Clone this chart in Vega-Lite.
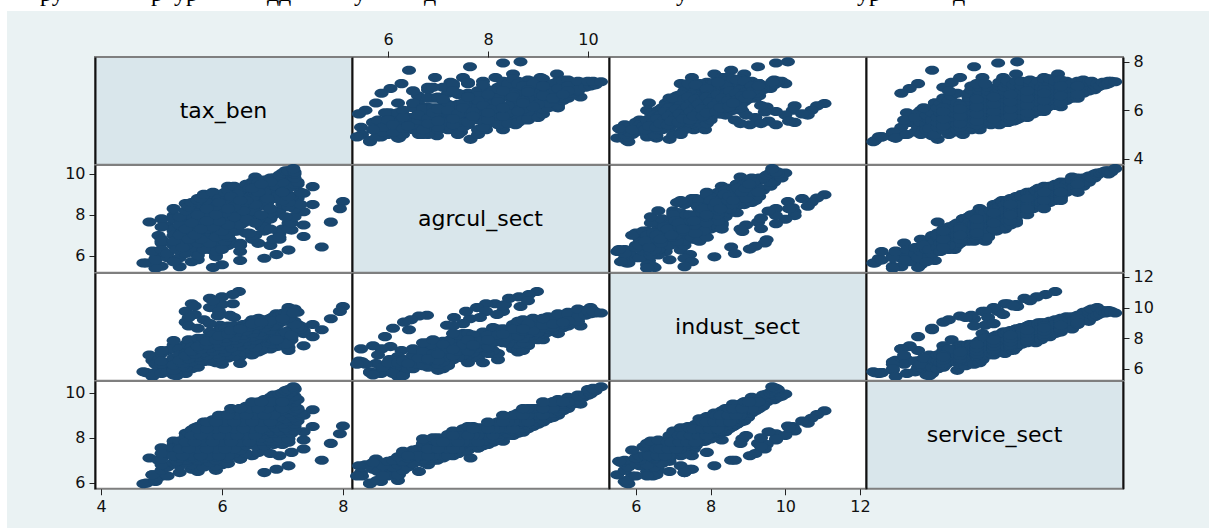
{"$schema":"https://vega.github.io/schema/vega-lite/v6.json","padding":0,"background":"#eaf2f3",
"config":{"view":{"stroke":"#7f7f7f","strokeWidth":2},"axis":{"grid":false,"domainColor":"#111111","domainWidth":2,"tickColor":"#222222","tickWidth":1,"tickSize":6,"labelFont":"DejaVu Sans","labelFontSize":16,"labelColor":"#111111","labelPadding":4},"point":{"filled":true,"opacity":1,"color":"#1a476f","strokeWidth":0,"size":196,"shape":"M-1,0A1,0.65 0 1 0 1,0A1,0.65 0 1 0 -1,0Z"},"text":{"font":"DejaVu Sans","fontSize":22,"color":"#000000"}},
"datasets":{"topline":[{"pos":40,"label":"ру"},{"pos":151,"label":"р"},{"pos":174,"label":"ур"},{"pos":267,"label":"д"},{"pos":279,"label":"д"},{"pos":354,"label":"у"},{"pos":424,"label":"д"},{"pos":676,"label":"у"},{"pos":857,"label":"ур"},{"pos":953,"label":"д"}],
"d":[
{"tax":8.0,"agr":8.65,"ind":10.07,"srv":8.52},{"tax":7.95,"agr":8.3,"ind":9.75,"srv":8.18},{"tax":7.8,"agr":7.64,"ind":9.27,"srv":7.75},{"tax":7.65,"agr":6.42,"ind":8.55,"srv":7.0},{"tax":7.5,"agr":9.38,"ind":8.9,"srv":9.25},{"tax":7.5,"agr":8.5,"ind":8.1,"srv":8.5},{"tax":7.35,"agr":6.94,"ind":7.5,"srv":7.5},{"tax":7.35,"agr":7.5,"ind":8.3,"srv":7.9},{"tax":7.35,"agr":8.15,"ind":8.4,"srv":8.27},{"tax":7.35,"agr":9.05,"ind":8.5,"srv":9.0},{"tax":7.1,"agr":6.27,"ind":7.2,"srv":6.75},{"tax":6.9,"agr":6.05,"ind":7.45,"srv":6.6},{"tax":6.7,"agr":5.87,"ind":7.3,"srv":6.45},{"tax":7.15,"agr":7.25,"ind":7.9,"srv":7.35},{"tax":6.95,"agr":6.8,"ind":7.5,"srv":7.2},{"tax":6.3,"agr":6.2,"ind":6.8,"srv":7.05},{"tax":6.3,"agr":5.76,"ind":6.35,"srv":7.05},{"tax":5.9,"agr":6.03,"ind":6.6,"srv":6.55},{"tax":6.0,"agr":5.55,"ind":6.3,"srv":6.8},{"tax":5.85,"agr":5.42,"ind":6.5,"srv":6.75},
{"tax":4.7,"agr":5.64,"ind":5.8,"srv":5.95},{"tax":4.9,"agr":5.86,"ind":5.7,"srv":6.05},{"tax":4.85,"agr":6.22,"ind":6.55,"srv":6.35},{"tax":5.0,"agr":6.0,"ind":5.9,"srv":6.3},{"tax":5.0,"agr":6.62,"ind":6.3,"srv":6.5},{"tax":4.9,"agr":6.2,"ind":5.75,"srv":6.1},
{"tax":4.8,"agr":7.65,"ind":6.9,"srv":7.1},{"tax":4.95,"agr":6.98,"ind":6.55,"srv":7.0},{"tax":5.2,"agr":7.2,"ind":7.55,"srv":7.5},{"tax":5.1,"agr":7.46,"ind":7.2,"srv":7.4},{"tax":5.0,"agr":7.8,"ind":7.0,"srv":7.55},{"tax":5.2,"agr":7.96,"ind":7.3,"srv":7.7},{"tax":5.2,"agr":8.3,"ind":7.85,"srv":7.85},{"tax":5.4,"agr":8.55,"ind":7.6,"srv":8.2},{"tax":5.6,"agr":8.8,"ind":7.5,"srv":8.5},{"tax":6.1,"agr":9.4,"ind":8.3,"srv":9.0},{"tax":6.55,"agr":9.85,"ind":8.8,"srv":9.5},
{"tax":6.28,"agr":8.98,"ind":11.05,"srv":9.2},{"tax":6.18,"agr":8.82,"ind":10.85,"srv":9.03},{"tax":6.0,"agr":8.62,"ind":10.7,"srv":8.87},{"tax":5.8,"agr":8.42,"ind":10.6,"srv":8.65},{"tax":6.18,"agr":8.14,"ind":10.25,"srv":8.3},{"tax":6.0,"agr":8.34,"ind":10.2,"srv":8.5},{"tax":5.5,"agr":7.96,"ind":10.25,"srv":8.35},{"tax":5.8,"agr":7.78,"ind":10.0,"srv":8.1},{"tax":5.4,"agr":7.96,"ind":9.75,"srv":7.9},{"tax":5.95,"agr":7.56,"ind":9.75,"srv":7.95},{"tax":5.55,"agr":8.18,"ind":9.55,"srv":8.27},{"tax":6.13,"agr":6.78,"ind":9.5,"srv":7.7},{"tax":5.93,"agr":6.62,"ind":9.45,"srv":7.5},{"tax":5.7,"agr":6.46,"ind":9.2,"srv":7.3},{"tax":5.4,"agr":6.32,"ind":9.05,"srv":7.2},{"tax":6.2,"agr":7.84,"ind":9.35,"srv":8.0},{"tax":5.45,"agr":7.32,"ind":9.35,"srv":7.6},{"tax":5.97,"agr":7.18,"ind":8.85,"srv":7.95},{"tax":5.8,"agr":7.5,"ind":8.95,"srv":8.1},{"tax":5.45,"agr":7.3,"ind":8.8,"srv":7.75},{"tax":5.6,"agr":6.1,"ind":8.65,"srv":7.0},{"tax":5.9,"agr":5.94,"ind":8.1,"srv":6.75},{"tax":5.5,"agr":5.7,"ind":7.5,"srv":6.6},{"tax":5.3,"agr":5.46,"ind":7.3,"srv":6.45},{"tax":5.6,"agr":5.8,"ind":6.9,"srv":6.5},{"tax":5.0,"agr":5.48,"ind":6.45,"srv":6.3},{"tax":4.9,"agr":5.38,"ind":6.3,"srv":6.3},{"tax":4.75,"agr":5.64,"ind":5.75,"srv":5.98},{"tax":4.9,"agr":5.78,"ind":5.75,"srv":6.1},{"tax":5.1,"agr":5.9,"ind":6.0,"srv":6.3},{"tax":4.85,"agr":6.2,"ind":5.5,"srv":6.35},{"tax":5.0,"agr":6.3,"ind":5.7,"srv":6.55},{"tax":5.85,"agr":8.8,"ind":10.45,"srv":8.75},{"tax":5.55,"agr":8.3,"ind":10.1,"srv":8.45},
{"tax":5.1,"agr":6.1,"ind":5.8,"srv":6.7},{"tax":5.3,"agr":5.9,"ind":6.1,"srv":6.75},{"tax":5.5,"agr":6.2,"ind":6.2,"srv":6.8},{"tax":5.7,"agr":6.4,"ind":6.5,"srv":6.7},{"tax":5.2,"agr":6.5,"ind":6.0,"srv":6.85},{"tax":5.4,"agr":6.7,"ind":6.2,"srv":6.9},{"tax":5.6,"agr":6.0,"ind":6.4,"srv":6.95},{"tax":5.8,"agr":6.3,"ind":6.6,"srv":6.9},{"tax":6.0,"agr":6.6,"ind":6.9,"srv":6.95},{"tax":5.0,"agr":6.8,"ind":6.3,"srv":6.8},{"tax":5.2,"agr":5.7,"ind":5.6,"srv":6.9},{"tax":5.4,"agr":6.1,"ind":5.7,"srv":7.0},{"tax":5.6,"agr":6.8,"ind":6.1,"srv":7.0},{"tax":5.9,"agr":6.9,"ind":6.7,"srv":7.0},{"tax":6.1,"agr":6.5,"ind":6.7,"srv":6.85},{"tax":5.25,"agr":6.3,"ind":5.55,"srv":6.95},
{"tax":5.0,"agr":6.7,"ind":6.5,"srv":7.05},{"tax":5.3,"agr":7.1,"ind":6.0,"srv":7.1},{"tax":5.5,"agr":6.4,"ind":6.0,"srv":7.1},{"tax":5.7,"agr":6.9,"ind":6.5,"srv":7.1},{"tax":5.9,"agr":6.2,"ind":6.4,"srv":7.15},{"tax":6.1,"agr":7.0,"ind":6.9,"srv":7.1},{"tax":6.3,"agr":6.6,"ind":6.9,"srv":7.15},{"tax":6.5,"agr":6.9,"ind":7.2,"srv":7.2},{"tax":5.2,"agr":7.3,"ind":6.6,"srv":7.2},{"tax":5.4,"agr":6.5,"ind":6.1,"srv":7.2},{"tax":5.6,"agr":7.2,"ind":6.3,"srv":7.25},{"tax":5.8,"agr":6.7,"ind":6.7,"srv":7.25},{"tax":6.0,"agr":6.3,"ind":6.6,"srv":7.3},{"tax":6.2,"agr":7.4,"ind":7.0,"srv":7.3},{"tax":6.4,"agr":7.1,"ind":7.1,"srv":7.3},{"tax":6.6,"agr":6.6,"ind":7.1,"srv":7.35},{"tax":5.0,"agr":7.4,"ind":7.2,"srv":7.3},{"tax":5.3,"agr":6.8,"ind":6.5,"srv":7.35},{"tax":5.5,"agr":7.5,"ind":6.7,"srv":7.4},{"tax":5.7,"agr":6.3,"ind":6.5,"srv":7.4},{"tax":5.9,"agr":7.0,"ind":7.0,"srv":7.4},{"tax":6.1,"agr":7.5,"ind":7.2,"srv":7.4},{"tax":6.3,"agr":6.5,"ind":6.9,"srv":7.45},{"tax":6.7,"agr":7.2,"ind":7.4,"srv":7.45},{"tax":5.2,"agr":7.0,"ind":5.9,"srv":7.45},{"tax":5.4,"agr":7.6,"ind":6.4,"srv":7.45},{"tax":5.6,"agr":6.6,"ind":6.3,"srv":7.5},{"tax":5.8,"agr":7.3,"ind":7.1,"srv":7.5},{"tax":6.0,"agr":6.8,"ind":7.3,"srv":7.5},{"tax":6.8,"agr":6.5,"ind":7.3,"srv":7.3},
{"tax":5.2,"agr":7.8,"ind":6.7,"srv":7.55},{"tax":5.35,"agr":7.2,"ind":6.2,"srv":7.6},{"tax":5.5,"agr":6.9,"ind":6.6,"srv":7.55},{"tax":5.65,"agr":7.6,"ind":6.9,"srv":7.6},{"tax":5.8,"agr":7.1,"ind":6.5,"srv":7.6},{"tax":5.95,"agr":7.8,"ind":7.2,"srv":7.6},{"tax":6.1,"agr":6.7,"ind":7.3,"srv":7.65},{"tax":6.25,"agr":7.4,"ind":7.0,"srv":7.6},{"tax":6.4,"agr":7.9,"ind":7.5,"srv":7.65},{"tax":6.55,"agr":7.0,"ind":7.4,"srv":7.65},{"tax":6.7,"agr":7.6,"ind":7.6,"srv":7.65},{"tax":6.85,"agr":6.8,"ind":7.6,"srv":7.7},{"tax":7.0,"agr":7.3,"ind":7.5,"srv":7.7},{"tax":5.3,"agr":7.5,"ind":6.9,"srv":7.7},{"tax":5.45,"agr":8.0,"ind":7.2,"srv":7.7},{"tax":5.6,"agr":7.0,"ind":6.3,"srv":7.75},{"tax":5.75,"agr":6.7,"ind":7.1,"srv":7.75},{"tax":5.9,"agr":7.5,"ind":7.4,"srv":7.75},{"tax":6.05,"agr":8.1,"ind":7.0,"srv":7.8},{"tax":6.2,"agr":7.2,"ind":6.8,"srv":7.8},{"tax":6.35,"agr":7.7,"ind":7.3,"srv":7.8},{"tax":6.5,"agr":6.8,"ind":7.7,"srv":7.8},{"tax":6.65,"agr":7.4,"ind":7.5,"srv":7.85},{"tax":6.8,"agr":8.0,"ind":7.8,"srv":7.85},{"tax":6.95,"agr":7.1,"ind":7.8,"srv":7.85},{"tax":7.1,"agr":7.6,"ind":7.4,"srv":7.8},{"tax":5.3,"agr":7.9,"ind":6.4,"srv":7.85},{"tax":5.45,"agr":6.9,"ind":7.5,"srv":7.9},{"tax":5.6,"agr":7.4,"ind":7.7,"srv":7.9},{"tax":5.75,"agr":8.2,"ind":6.6,"srv":7.9},{"tax":5.9,"agr":7.2,"ind":6.9,"srv":7.9},{"tax":6.05,"agr":6.7,"ind":7.7,"srv":7.95},{"tax":6.2,"agr":7.8,"ind":7.9,"srv":7.95},{"tax":6.35,"agr":8.1,"ind":7.1,"srv":7.95},{"tax":6.5,"agr":7.0,"ind":6.9,"srv":8.0},{"tax":6.65,"agr":7.5,"ind":7.2,"srv":8.0},{"tax":6.8,"agr":7.8,"ind":8.0,"srv":8.0},{"tax":6.95,"agr":6.9,"ind":7.9,"srv":8.0},{"tax":7.1,"agr":7.3,"ind":8.0,"srv":7.95},
{"tax":5.4,"agr":8.2,"ind":7.0,"srv":8.05},{"tax":5.5,"agr":7.5,"ind":7.7,"srv":8.05},{"tax":5.65,"agr":8.5,"ind":7.3,"srv":8.1},{"tax":5.8,"agr":7.3,"ind":6.9,"srv":8.1},{"tax":5.95,"agr":7.9,"ind":7.6,"srv":8.1},{"tax":6.1,"agr":8.4,"ind":8.1,"srv":8.1},{"tax":6.25,"agr":7.2,"ind":7.8,"srv":8.15},{"tax":6.4,"agr":7.7,"ind":7.4,"srv":8.1},{"tax":6.55,"agr":8.3,"ind":7.7,"srv":8.15},{"tax":6.7,"agr":7.4,"ind":8.2,"srv":8.15},{"tax":6.85,"agr":8.0,"ind":7.9,"srv":8.2},{"tax":7.0,"agr":8.6,"ind":8.2,"srv":8.2},{"tax":7.15,"agr":7.6,"ind":8.1,"srv":8.2},{"tax":5.45,"agr":8.4,"ind":7.9,"srv":8.2},{"tax":5.6,"agr":7.8,"ind":8.0,"srv":8.2},{"tax":5.75,"agr":8.6,"ind":7.1,"srv":8.25},{"tax":5.9,"agr":7.4,"ind":8.2,"srv":8.25},{"tax":6.05,"agr":8.1,"ind":7.2,"srv":8.25},{"tax":6.2,"agr":8.7,"ind":7.6,"srv":8.25},{"tax":6.35,"agr":7.6,"ind":8.3,"srv":8.25},{"tax":6.5,"agr":8.0,"ind":7.0,"srv":8.3},{"tax":6.65,"agr":8.5,"ind":8.4,"srv":8.3},{"tax":6.8,"agr":7.3,"ind":8.3,"srv":8.3},{"tax":6.95,"agr":8.2,"ind":8.3,"srv":8.3},{"tax":7.1,"agr":8.7,"ind":7.7,"srv":8.35},{"tax":7.2,"agr":7.9,"ind":8.4,"srv":8.35},{"tax":5.5,"agr":8.6,"ind":7.4,"srv":8.35},{"tax":5.7,"agr":7.7,"ind":7.9,"srv":8.35},{"tax":5.85,"agr":8.3,"ind":8.3,"srv":8.4},{"tax":6.0,"agr":8.8,"ind":8.0,"srv":8.4},{"tax":6.15,"agr":7.5,"ind":7.5,"srv":8.4},{"tax":6.3,"agr":8.1,"ind":8.5,"srv":8.4},{"tax":6.45,"agr":8.6,"ind":7.3,"srv":8.4},{"tax":6.6,"agr":7.8,"ind":8.0,"srv":8.45},{"tax":6.75,"agr":8.4,"ind":8.5,"srv":8.45},{"tax":6.9,"agr":8.8,"ind":8.2,"srv":8.45},{"tax":7.05,"agr":7.9,"ind":7.6,"srv":8.45},{"tax":7.2,"agr":8.3,"ind":8.6,"srv":8.5},{"tax":5.6,"agr":8.7,"ind":7.2,"srv":8.45},{"tax":5.8,"agr":8.0,"ind":7.7,"srv":8.5},{"tax":5.95,"agr":8.5,"ind":8.5,"srv":8.5},{"tax":6.1,"agr":7.7,"ind":8.2,"srv":8.5},{"tax":6.25,"agr":8.9,"ind":7.9,"srv":8.5},{"tax":6.4,"agr":8.2,"ind":8.6,"srv":8.5},{"tax":6.55,"agr":7.6,"ind":7.4,"srv":8.5},
{"tax":5.65,"agr":8.8,"ind":7.6,"srv":8.55},{"tax":5.8,"agr":8.3,"ind":8.4,"srv":8.55},{"tax":6.0,"agr":8.9,"ind":8.6,"srv":8.6},{"tax":6.2,"agr":8.0,"ind":7.9,"srv":8.55},{"tax":6.4,"agr":8.6,"ind":7.6,"srv":8.6},{"tax":6.6,"agr":9.0,"ind":8.2,"srv":8.6},{"tax":6.8,"agr":8.1,"ind":8.7,"srv":8.6},{"tax":7.0,"agr":8.5,"ind":8.3,"srv":8.6},{"tax":7.2,"agr":8.9,"ind":8.7,"srv":8.6},{"tax":5.7,"agr":9.0,"ind":8.0,"srv":8.7},{"tax":5.9,"agr":8.4,"ind":7.7,"srv":8.7},{"tax":6.1,"agr":8.8,"ind":8.8,"srv":8.7},{"tax":6.3,"agr":9.1,"ind":8.4,"srv":8.7},{"tax":6.5,"agr":8.2,"ind":7.8,"srv":8.7},{"tax":6.7,"agr":8.7,"ind":8.8,"srv":8.7},{"tax":6.9,"agr":9.1,"ind":7.9,"srv":8.75},{"tax":7.1,"agr":8.4,"ind":8.5,"srv":8.75},{"tax":7.25,"agr":8.8,"ind":8.9,"srv":8.75},{"tax":5.85,"agr":9.1,"ind":8.2,"srv":8.8},{"tax":6.05,"agr":8.3,"ind":8.6,"srv":8.8},{"tax":6.25,"agr":8.7,"ind":7.7,"srv":8.85},{"tax":6.45,"agr":9.2,"ind":8.8,"srv":8.85},{"tax":6.65,"agr":8.5,"ind":8.0,"srv":8.85},{"tax":6.85,"agr":8.9,"ind":8.9,"srv":8.85},{"tax":7.05,"agr":9.2,"ind":8.4,"srv":8.85},{"tax":7.2,"agr":8.6,"ind":9.0,"srv":8.9},{"tax":5.95,"agr":8.8,"ind":8.0,"srv":8.9},{"tax":6.15,"agr":9.3,"ind":8.5,"srv":8.9},{"tax":6.35,"agr":8.5,"ind":8.9,"srv":8.9},{"tax":6.55,"agr":9.0,"ind":7.9,"srv":8.95},{"tax":6.75,"agr":8.6,"ind":8.7,"srv":8.95},{"tax":6.95,"agr":9.3,"ind":9.0,"srv":8.95},{"tax":7.15,"agr":8.9,"ind":8.2,"srv":9.0},{"tax":7.3,"agr":8.5,"ind":8.8,"srv":9.0},{"tax":6.05,"agr":9.1,"ind":8.3,"srv":9.0},{"tax":6.25,"agr":8.6,"ind":8.8,"srv":9.0},{"tax":6.45,"agr":9.3,"ind":9.0,"srv":9.0},{"tax":6.65,"agr":8.8,"ind":8.1,"srv":9.0},
{"tax":6.1,"agr":9.2,"ind":8.4,"srv":9.05},{"tax":6.3,"agr":8.7,"ind":8.1,"srv":9.1},{"tax":6.5,"agr":9.4,"ind":9.0,"srv":9.1},{"tax":6.7,"agr":8.9,"ind":8.4,"srv":9.1},{"tax":6.9,"agr":9.3,"ind":8.8,"srv":9.1},{"tax":7.1,"agr":8.6,"ind":9.1,"srv":9.1},{"tax":7.3,"agr":9.1,"ind":8.6,"srv":9.1},{"tax":6.2,"agr":9.4,"ind":8.8,"srv":9.2},{"tax":6.4,"agr":8.8,"ind":8.3,"srv":9.2},{"tax":6.6,"agr":9.5,"ind":9.1,"srv":9.2},{"tax":6.8,"agr":9.0,"ind":8.6,"srv":9.2},{"tax":7.0,"agr":8.7,"ind":9.2,"srv":9.2},{"tax":7.2,"agr":9.4,"ind":8.9,"srv":9.2},{"tax":6.3,"agr":9.2,"ind":8.6,"srv":9.3},{"tax":6.5,"agr":9.6,"ind":9.2,"srv":9.3},{"tax":6.7,"agr":9.0,"ind":8.4,"srv":9.3},{"tax":6.9,"agr":9.4,"ind":9.0,"srv":9.3},{"tax":7.1,"agr":8.9,"ind":9.3,"srv":9.3},{"tax":7.25,"agr":9.5,"ind":8.7,"srv":9.3},{"tax":6.4,"agr":9.5,"ind":8.7,"srv":9.4},{"tax":6.6,"agr":9.1,"ind":9.3,"srv":9.4},{"tax":6.8,"agr":9.6,"ind":8.8,"srv":9.4},{"tax":7.0,"agr":9.2,"ind":9.4,"srv":9.4},{"tax":7.2,"agr":9.5,"ind":9.1,"srv":9.4},{"tax":6.5,"agr":9.5,"ind":8.9,"srv":9.5},{"tax":6.7,"agr":9.2,"ind":8.6,"srv":9.5},{"tax":6.9,"agr":9.7,"ind":9.4,"srv":9.5},{"tax":7.1,"agr":9.3,"ind":9.1,"srv":9.5},
{"tax":6.6,"agr":9.6,"ind":9.0,"srv":9.6},{"tax":6.8,"agr":9.3,"ind":9.3,"srv":9.6},{"tax":7.0,"agr":9.8,"ind":9.5,"srv":9.6},{"tax":7.2,"agr":9.5,"ind":8.9,"srv":9.6},{"tax":6.7,"agr":9.7,"ind":9.2,"srv":9.7},{"tax":6.9,"agr":9.4,"ind":9.6,"srv":9.7},{"tax":7.1,"agr":9.8,"ind":9.3,"srv":9.7},{"tax":7.25,"agr":9.6,"ind":9.7,"srv":9.7},{"tax":6.8,"agr":9.8,"ind":9.1,"srv":9.8},{"tax":7.0,"agr":9.6,"ind":9.6,"srv":9.8},{"tax":7.15,"agr":9.9,"ind":9.8,"srv":9.8},{"tax":6.85,"agr":9.8,"ind":9.4,"srv":9.9},{"tax":7.05,"agr":10.0,"ind":9.7,"srv":9.9},{"tax":7.2,"agr":9.8,"ind":9.9,"srv":9.85},{"tax":6.95,"agr":9.95,"ind":9.5,"srv":9.95},{"tax":7.1,"agr":10.05,"ind":10.0,"srv":9.95},
{"tax":7.0,"agr":10.05,"ind":9.6,"srv":10.0},{"tax":7.15,"agr":10.1,"ind":9.8,"srv":10.05},{"tax":7.05,"agr":10.15,"ind":9.65,"srv":10.1},{"tax":7.2,"agr":10.0,"ind":9.8,"srv":10.15},{"tax":7.1,"agr":10.15,"ind":9.7,"srv":10.15},{"tax":7.2,"agr":10.1,"ind":9.75,"srv":10.2},{"tax":7.18,"agr":10.26,"ind":9.65,"srv":10.27},
{"tax":5.2,"agr":6.7,"ind":6.25,"srv":7.2},{"tax":5.5,"agr":7.1,"ind":6.46,"srv":7.2},{"tax":5.8,"agr":6.6,"ind":6.67,"srv":7.2},{"tax":6.1,"agr":6.9,"ind":6.88,"srv":7.2},{"tax":5.35,"agr":6.4,"ind":6.35,"srv":7.2},{"tax":5.65,"agr":6.8,"ind":6.57,"srv":7.2},{"tax":5.95,"agr":7.2,"ind":6.78,"srv":7.2},
{"tax":5.3,"agr":7.0,"ind":6.55,"srv":7.5},{"tax":5.6,"agr":7.4,"ind":6.76,"srv":7.5},{"tax":5.9,"agr":6.9,"ind":6.97,"srv":7.5},{"tax":6.2,"agr":7.2,"ind":7.18,"srv":7.5},{"tax":5.45,"agr":6.8,"ind":6.65,"srv":7.5},{"tax":5.75,"agr":7.3,"ind":6.87,"srv":7.5},{"tax":6.05,"agr":7.0,"ind":7.08,"srv":7.5},
{"tax":5.4,"agr":7.3,"ind":6.85,"srv":7.8},{"tax":5.7,"agr":7.7,"ind":7.06,"srv":7.8},{"tax":6.0,"agr":7.2,"ind":7.27,"srv":7.8},{"tax":6.3,"agr":7.5,"ind":7.48,"srv":7.8},{"tax":5.55,"agr":7.0,"ind":6.95,"srv":7.8},{"tax":5.85,"agr":7.4,"ind":7.17,"srv":7.8},{"tax":6.15,"agr":7.8,"ind":7.38,"srv":7.8},{"tax":6.45,"agr":7.1,"ind":7.59,"srv":7.8},
{"tax":5.5,"agr":7.6,"ind":7.15,"srv":8.1},{"tax":5.8,"agr":8.0,"ind":7.36,"srv":8.1},{"tax":6.1,"agr":7.5,"ind":7.57,"srv":8.1},{"tax":6.4,"agr":7.8,"ind":7.78,"srv":8.1},{"tax":5.65,"agr":7.3,"ind":7.26,"srv":8.1},{"tax":5.95,"agr":7.7,"ind":7.47,"srv":8.1},{"tax":6.25,"agr":8.1,"ind":7.68,"srv":8.1},{"tax":6.55,"agr":7.6,"ind":7.89,"srv":8.1},
{"tax":5.6,"agr":8.0,"ind":7.45,"srv":8.4},{"tax":5.9,"agr":8.4,"ind":7.66,"srv":8.4},{"tax":6.2,"agr":7.9,"ind":7.87,"srv":8.4},{"tax":6.5,"agr":8.2,"ind":8.08,"srv":8.4},{"tax":5.75,"agr":7.7,"ind":7.55,"srv":8.4},{"tax":6.05,"agr":8.1,"ind":7.77,"srv":8.4},{"tax":6.35,"agr":8.5,"ind":7.98,"srv":8.4},{"tax":6.65,"agr":8.0,"ind":8.19,"srv":8.4},
{"tax":5.75,"agr":8.3,"ind":7.79,"srv":8.7},{"tax":6.05,"agr":8.7,"ind":8.0,"srv":8.7},{"tax":6.35,"agr":8.2,"ind":8.2,"srv":8.7},{"tax":6.65,"agr":8.5,"ind":8.42,"srv":8.7},{"tax":5.9,"agr":8.0,"ind":7.89,"srv":8.7},{"tax":6.2,"agr":8.4,"ind":8.1,"srv":8.7},{"tax":6.5,"agr":8.8,"ind":8.31,"srv":8.7},{"tax":6.8,"agr":8.3,"ind":8.52,"srv":8.7},
{"tax":5.95,"agr":8.6,"ind":8.15,"srv":9.0},{"tax":6.25,"agr":9.0,"ind":8.37,"srv":9.0},{"tax":6.55,"agr":8.5,"ind":8.58,"srv":9.0},{"tax":6.85,"agr":8.8,"ind":8.79,"srv":9.0},{"tax":6.1,"agr":8.3,"ind":8.26,"srv":9.0},{"tax":6.4,"agr":8.7,"ind":8.47,"srv":9.0},{"tax":6.7,"agr":9.1,"ind":8.68,"srv":9.0},
{"tax":6.15,"agr":8.9,"ind":8.5,"srv":9.3},{"tax":6.45,"agr":9.3,"ind":8.73,"srv":9.3},{"tax":6.75,"agr":8.8,"ind":8.95,"srv":9.3},{"tax":7.0,"agr":9.1,"ind":9.1,"srv":9.3},{"tax":6.3,"agr":8.7,"ind":8.6,"srv":9.3},{"tax":6.6,"agr":9.1,"ind":8.84,"srv":9.3},
{"tax":6.5,"agr":9.3,"ind":8.93,"srv":9.6},{"tax":6.8,"agr":9.6,"ind":9.14,"srv":9.6},{"tax":7.0,"agr":9.1,"ind":9.28,"srv":9.6},{"tax":6.65,"agr":9.5,"ind":9.03,"srv":9.6}
]},
"vconcat":[
{"width":1209,"height":11,"view":{"fill":"#ffffff","stroke":null},"data":{"name":"topline"},"mark":{"type":"text","clip":true,"font":"Liberation Serif","fontSize":24,"align":"left","baseline":"alphabetic","dy":-5,"color":"#000000"},"encoding":{"x":{"field":"pos","type":"quantitative","scale":{"domain":[0,1209]},"axis":null},"text":{"field":"label"}}},
{"hconcat":[
{"width":7,"height":517,"view":{"fill":"#ffffff","stroke":null},"data":{"values":[]},"mark":"point"},
{"width":88,"height":516,"view":{"stroke":null},"data":{"values":[]},"mark":"point"},
{"vconcat":[
{"width":1028,"height":46,"view":{"stroke":null},"data":{"values":[]},"mark":"point"},
{"columns":4,"spacing":0,"bounds":"flush","concat":[
{"width":257,"height":107.75,"view":{"fill":"#d9e6eb"},"data":{"values":[{"label":"tax_ben"}]},"mark":"text","encoding":{"x":{"datum":6.025,"type":"quantitative","scale":{"domain":[3.9,8.15],"nice":false,"zero":false},"axis":null},"y":{"datum":5.975,"type":"quantitative","scale":{"domain":[3.75,8.2],"nice":false,"zero":false},"axis":{"title":null,"labels":false,"ticks":false,"orient":"left"}},"text":{"field":"label"}}},
{"width":257,"height":107.75,"view":{"fill":"#ffffff"},"data":{"name":"d"},"mark":"point","encoding":{"x":{"field":"agr","type":"quantitative","scale":{"domain":[5.28,10.42],"nice":false,"zero":false},"axis":{"title":null,"orient":"top","values":[6,8,10],"domain":false}},"y":{"field":"tax","type":"quantitative","scale":{"domain":[3.75,8.2],"nice":false,"zero":false},"axis":{"title":null,"labels":false,"ticks":false,"orient":"left"}}}},
{"width":257,"height":107.75,"view":{"fill":"#ffffff"},"data":{"name":"d"},"mark":"point","encoding":{"x":{"field":"ind","type":"quantitative","scale":{"domain":[5.28,12.16],"nice":false,"zero":false},"axis":null},"y":{"field":"tax","type":"quantitative","scale":{"domain":[3.75,8.2],"nice":false,"zero":false},"axis":{"title":null,"labels":false,"ticks":false,"orient":"left"}}}},
{"width":257,"height":107.75,"view":{"fill":"#ffffff"},"resolve":{"axis":{"y":"independent"}},"layer":[{"data":{"values":[]},"mark":"point","encoding":{"x":{"field":"srv","type":"quantitative","scale":{"domain":[5.82,10.41],"nice":false,"zero":false},"axis":null},"y":{"field":"tax","type":"quantitative","scale":{"domain":[3.75,8.2],"nice":false,"zero":false},"axis":{"title":null,"labels":false,"ticks":false,"orient":"left"}}}},{"data":{"name":"d"},"mark":"point","encoding":{"x":{"field":"srv","type":"quantitative","scale":{"domain":[5.82,10.41],"nice":false,"zero":false},"axis":{"title":null,"orient":"top","values":[6,8,10],"domain":false}},"y":{"field":"tax","type":"quantitative","scale":{"domain":[3.75,8.2],"nice":false,"zero":false},"axis":{"title":null,"orient":"right","values":[4,6,8]}}}}]},

{"width":257,"height":107.75,"view":{"fill":"#ffffff"},"data":{"name":"d"},"mark":"point","encoding":{"x":{"field":"tax","type":"quantitative","scale":{"domain":[3.9,8.15],"nice":false,"zero":false},"axis":null},"y":{"field":"agr","type":"quantitative","scale":{"domain":[5.16,10.44],"nice":false,"zero":false},"axis":{"title":null,"orient":"left","values":[6,8,10]}}}},
{"width":257,"height":107.75,"view":{"fill":"#d9e6eb"},"data":{"values":[{"label":"agrcul_sect"}]},"mark":"text","encoding":{"x":{"datum":7.85,"type":"quantitative","scale":{"domain":[5.28,10.42],"nice":false,"zero":false},"axis":null},"y":{"datum":7.8,"type":"quantitative","scale":{"domain":[5.16,10.44],"nice":false,"zero":false},"axis":{"title":null,"labels":false,"ticks":false,"orient":"left"}},"text":{"field":"label"}}},
{"width":257,"height":107.75,"view":{"fill":"#ffffff"},"data":{"name":"d"},"mark":"point","encoding":{"x":{"field":"ind","type":"quantitative","scale":{"domain":[5.28,12.16],"nice":false,"zero":false},"axis":null},"y":{"field":"agr","type":"quantitative","scale":{"domain":[5.16,10.44],"nice":false,"zero":false},"axis":{"title":null,"labels":false,"ticks":false,"orient":"left"}}}},
{"width":257,"height":107.75,"view":{"fill":"#ffffff"},"resolve":{"axis":{"y":"independent"}},"layer":[{"data":{"values":[]},"mark":"point","encoding":{"x":{"field":"srv","type":"quantitative","scale":{"domain":[5.82,10.41],"nice":false,"zero":false},"axis":null},"y":{"field":"agr","type":"quantitative","scale":{"domain":[5.16,10.44],"nice":false,"zero":false},"axis":{"title":null,"labels":false,"ticks":false,"orient":"left"}}}},{"data":{"name":"d"},"mark":"point","encoding":{"x":{"field":"srv","type":"quantitative","scale":{"domain":[5.82,10.41],"nice":false,"zero":false},"axis":null},"y":{"field":"agr","type":"quantitative","scale":{"domain":[5.16,10.44],"nice":false,"zero":false},"axis":{"title":null,"labels":false,"ticks":false,"orient":"right"}}}}]},

{"width":257,"height":107.75,"view":{"fill":"#ffffff"},"data":{"name":"d"},"mark":"point","encoding":{"x":{"field":"tax","type":"quantitative","scale":{"domain":[3.9,8.15],"nice":false,"zero":false},"axis":null},"y":{"field":"ind","type":"quantitative","scale":{"domain":[5.22,12.26],"nice":false,"zero":false},"axis":{"title":null,"labels":false,"ticks":false,"orient":"left"}}}},
{"width":257,"height":107.75,"view":{"fill":"#ffffff"},"data":{"name":"d"},"mark":"point","encoding":{"x":{"field":"agr","type":"quantitative","scale":{"domain":[5.28,10.42],"nice":false,"zero":false},"axis":null},"y":{"field":"ind","type":"quantitative","scale":{"domain":[5.22,12.26],"nice":false,"zero":false},"axis":{"title":null,"labels":false,"ticks":false,"orient":"left"}}}},
{"width":257,"height":107.75,"view":{"fill":"#d9e6eb"},"data":{"values":[{"label":"indust_sect"}]},"mark":"text","encoding":{"x":{"datum":8.72,"type":"quantitative","scale":{"domain":[5.28,12.16],"nice":false,"zero":false},"axis":null},"y":{"datum":8.74,"type":"quantitative","scale":{"domain":[5.22,12.26],"nice":false,"zero":false},"axis":{"title":null,"labels":false,"ticks":false,"orient":"left"}},"text":{"field":"label"}}},
{"width":257,"height":107.75,"view":{"fill":"#ffffff"},"resolve":{"axis":{"y":"independent"}},"layer":[{"data":{"values":[]},"mark":"point","encoding":{"x":{"field":"srv","type":"quantitative","scale":{"domain":[5.82,10.41],"nice":false,"zero":false},"axis":null},"y":{"field":"ind","type":"quantitative","scale":{"domain":[5.22,12.26],"nice":false,"zero":false},"axis":{"title":null,"labels":false,"ticks":false,"orient":"left"}}}},{"data":{"name":"d"},"mark":"point","encoding":{"x":{"field":"srv","type":"quantitative","scale":{"domain":[5.82,10.41],"nice":false,"zero":false},"axis":null},"y":{"field":"ind","type":"quantitative","scale":{"domain":[5.22,12.26],"nice":false,"zero":false},"axis":{"title":null,"orient":"right","values":[6,8,10,12]}}}}]},

{"width":257,"height":107.75,"view":{"fill":"#ffffff"},"data":{"name":"d"},"mark":"point","encoding":{"x":{"field":"tax","type":"quantitative","scale":{"domain":[3.9,8.15],"nice":false,"zero":false},"axis":{"title":null,"orient":"bottom","values":[4,6,8],"domain":false}},"y":{"field":"srv","type":"quantitative","scale":{"domain":[5.73,10.53],"nice":false,"zero":false},"axis":{"title":null,"orient":"left","values":[6,8,10]}}}},
{"width":257,"height":107.75,"view":{"fill":"#ffffff"},"data":{"name":"d"},"mark":"point","encoding":{"x":{"field":"agr","type":"quantitative","scale":{"domain":[5.28,10.42],"nice":false,"zero":false},"axis":null},"y":{"field":"srv","type":"quantitative","scale":{"domain":[5.73,10.53],"nice":false,"zero":false},"axis":{"title":null,"labels":false,"ticks":false,"orient":"left"}}}},
{"width":257,"height":107.75,"view":{"fill":"#ffffff"},"data":{"name":"d"},"mark":"point","encoding":{"x":{"field":"ind","type":"quantitative","scale":{"domain":[5.28,12.16],"nice":false,"zero":false},"axis":{"title":null,"orient":"bottom","values":[6,8,10,12],"domain":false}},"y":{"field":"srv","type":"quantitative","scale":{"domain":[5.73,10.53],"nice":false,"zero":false},"axis":{"title":null,"labels":false,"ticks":false,"orient":"left"}}}},
{"width":257,"height":107.75,"view":{"fill":"#d9e6eb"},"resolve":{"axis":{"y":"independent"}},"layer":[{"data":{"values":[]},"mark":"point","encoding":{"x":{"datum":8,"type":"quantitative","scale":{"domain":[5.82,10.41],"nice":false,"zero":false},"axis":null},"y":{"field":"srv","type":"quantitative","scale":{"domain":[5.73,10.53],"nice":false,"zero":false},"axis":{"title":null,"labels":false,"ticks":false,"orient":"left"}}}},{"data":{"values":[{"label":"service_sect"}]},"mark":"text","encoding":{"x":{"datum":8.115,"type":"quantitative","scale":{"domain":[5.82,10.41],"nice":false,"zero":false},"axis":null},"y":{"datum":8.13,"type":"quantitative","scale":{"domain":[5.73,10.53],"nice":false,"zero":false},"axis":{"title":null,"labels":false,"ticks":false,"orient":"right"}},"text":{"field":"label"}}}]}
]},
{"width":1028,"height":40,"view":{"stroke":null},"data":{"values":[]},"mark":"point"}
],"spacing":0,"bounds":"flush"},
{"width":86,"height":515,"view":{"stroke":null},"data":{"values":[]},"mark":"point"}
],"spacing":0,"bounds":"flush"}
],"spacing":0,"bounds":"flush"}
